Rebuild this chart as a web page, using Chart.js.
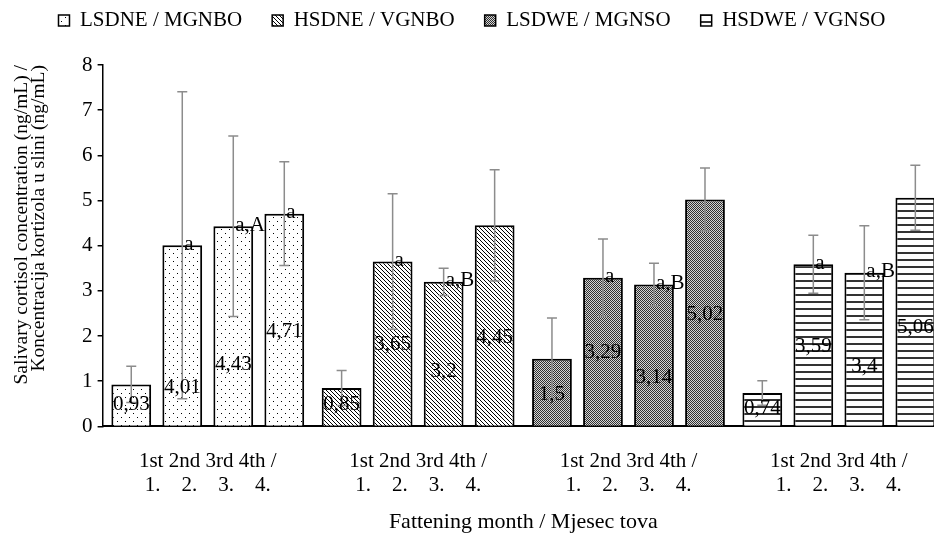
<!DOCTYPE html>
<html>
<head>
<meta charset="utf-8">
<script src="https://cdn.jsdelivr.net/npm/chart.js@4.4.1/dist/chart.umd.min.js"></script>
<style>
  html, body { margin: 0; padding: 0; background: #fff; overflow: hidden; }
</style>
</head>
<body>
<canvas id="c" width="950" height="536"></canvas>
<script>
const groupNames = ['LSDNE / MGNBO', 'HSDNE / VGNBO', 'LSDWE / MGNSO', 'HSDWE / VGNSO'];
const tickLabel = ['1st 2nd 3rd 4th /', '1.    2.    3.    4.'];
const monthNames = ['1.', '2.', '3.', '4.'];

// mean per fattening month, one value per group
const month1 = [0.93, 0.85, 1.5, 0.74];
const month2 = [4.01, 3.65, 3.29, 3.59];
const month3 = [4.43, 3.2, 3.14, 3.4];
const month4 = [4.71, 4.45, 5.02, 5.06];

// standard deviation (error bars)
const sd1 = [0.4, 0.39, 0.9, 0.27];
const sd2 = [3.4, 1.5, 0.86, 0.64];
const sd3 = [2.0, 0.3, 0.47, 1.04];
const sd4 = [1.15, 1.23, 0.7, 0.72];

// significance letters
const sig1 = ['', '', '', ''];
const sig2 = ['a', 'a', 'a', 'a'];
const sig3 = ['a,A', 'a,B', 'a,B', 'a,B'];
const sig4 = ['a', '', '', ''];

// height (in ng/mL) where the value label was placed
const lab1 = [0.49, 0.49, 0.71, 0.4];
const lab2 = [0.86, 1.81, 1.64, 1.77];
const lab3 = [1.37, 1.22, 1.08, 1.33];
const lab4 = [2.1, 1.97, 2.48, 2.19];

const means = [month1, month2, month3, month4];
const sds = [sd1, sd2, sd3, sd4];
const sigs = [sig1, sig2, sig3, sig4];
const labs = [lab1, lab2, lab3, lab4];

const FONT = "'Liberation Serif', 'Times New Roman', serif";
Chart.defaults.font.family = FONT;
Chart.defaults.color = '#000';

// fill patterns
function pattern(w, h, draw) {
    const cv = document.createElement('canvas');
    cv.width = w; cv.height = h;
    const g = cv.getContext('2d');
    draw(g);
    return g.createPattern(cv, 'repeat');
}
const patDots = pattern(8, 8, g => {
    g.fillStyle = '#fff'; g.fillRect(0, 0, 8, 8);
    g.fillStyle = '#000'; g.fillRect(1, 1, 1, 1); g.fillRect(5, 5, 1, 1);
});
const patDiag = pattern(4, 4, g => {
    g.fillStyle = '#fff'; g.fillRect(0, 0, 4, 4);
    g.fillStyle = '#000';
    for (let i = 0; i < 4; i++) g.fillRect(i, i, 1, 1);
});
const patGrey = pattern(2, 2, g => {
    g.fillStyle = '#d4d4d4'; g.fillRect(0, 0, 2, 2);
    g.fillStyle = '#303030'; g.fillRect(0, 0, 1, 1); g.fillRect(1, 1, 1, 1);
});
const patHoriz = pattern(4, 7, g => {
    g.fillStyle = '#fff'; g.fillRect(0, 0, 4, 7);
    g.fillStyle = '#333'; g.fillRect(0, 0, 4, 2);
});
const patterns = [patDots, patDiag, patGrey, patHoriz];

// error bars
const errorBars = {
    id: 'errorBars',
    afterDatasetsDraw(chart) {
        const ctx = chart.ctx, y = chart.scales.y;
        ctx.save();
        ctx.strokeStyle = '#8c8c8c';
        ctx.lineWidth = 1.5;
        chart.data.datasets.forEach((ds, di) => {
            chart.getDatasetMeta(di).data.forEach((bar, i) => {
                const v = ds.data[i], e = sds[di][i];
                const yt = y.getPixelForValue(v + e), yb = y.getPixelForValue(Math.max(v - e, 0));
                ctx.beginPath();
                ctx.moveTo(bar.x, yt); ctx.lineTo(bar.x, yb);
                ctx.moveTo(bar.x - 5, yt); ctx.lineTo(bar.x + 5, yt);
                ctx.moveTo(bar.x - 5, yb); ctx.lineTo(bar.x + 5, yb);
                ctx.stroke();
            });
        });
        ctx.restore();
    }
};

// value labels and letters
const barLabels = {
    id: 'barLabels',
    afterDraw(chart) {
        const ctx = chart.ctx, y = chart.scales.y;
        ctx.save();
        ctx.font = '21px ' + FONT;
        ctx.fillStyle = '#000';
        ctx.textBaseline = 'middle';
        chart.data.datasets.forEach((ds, di) => {
            chart.getDatasetMeta(di).data.forEach((bar, i) => {
                ctx.textAlign = 'center';
                ctx.fillText(String(ds.data[i]).replace('.', ','), bar.x, y.getPixelForValue(labs[di][i]));
                if (sigs[di][i]) {
                    ctx.textAlign = 'left';
                    ctx.fillText(sigs[di][i], bar.x + 2, bar.y - 1);
                }
            });
        });
        ctx.restore();
    }
};

new Chart(document.getElementById('c'), {
    type: 'bar',
    data: {
        labels: groupNames.map(() => tickLabel),
        datasets: means.map((m, i) => ({
            label: monthNames[i],
            data: m,
            backgroundColor: patterns,
            borderColor: '#000',
            borderWidth: 2,
            categoryPercentage: 0.97,
            barPercentage: 0.78
        }))
    },
    options: {
        responsive: false,
        animation: false,
        layout: { padding: { top: -20, right: 6, left: 0, bottom: 0 } },
        plugins: {
            legend: {
                position: 'top',
                onClick: null,
                labels: {
                    font: { size: 21 },
                    color: '#000',
                    boxWidth: 11,
                    boxHeight: 11,
                    padding: 30,
                    generateLabels: () => groupNames.map((g, i) => ({
                        text: g, fillStyle: patterns[i], strokeStyle: '#000',
                        lineWidth: 1.5, hidden: false, fontColor: '#000'
                    }))
                }
            },
            // empty spacer between legend and plot
            title: { display: true, text: '', weight: 500, font: { size: 10, lineHeight: 1 }, padding: { top: 0, bottom: 14 } },
            tooltip: { enabled: false }
        },
        scales: {
            x: {
                grid: { display: false, drawTicks: false },
                border: { display: true, color: '#000', width: 2 },
                ticks: { color: '#000', font: { size: 21, lineHeight: 1.1 }, padding: 24, maxRotation: 0, autoSkip: false },
                title: {
                    display: true, text: 'Fattening month / Mjesec tova', color: '#000',
                    font: { size: 22 }, padding: { top: -12, bottom: 1 }
                }
            },
            y: {
                min: 0, max: 8,
                ticks: { stepSize: 1, color: '#000', font: { size: 21 }, padding: 5 },
                grid: { display: true, drawOnChartArea: false, drawTicks: true, tickLength: 5, color: '#000', lineWidth: 1.5 },
                border: { display: true, color: '#000', width: 1.5 },
                title: {
                    display: true, align: 'end', color: '#000',
                    text: ['Salivary cortisol concentration (ng/mL) /', 'Koncentracija kortizola u slini (ng/mL)'],
                    font: { size: 19.5, lineHeight: 0.9 }, padding: { top: 13, bottom: 29 }
                }
            }
        }
    },
    plugins: [errorBars, barLabels]
});
</script>
</body>
</html>
